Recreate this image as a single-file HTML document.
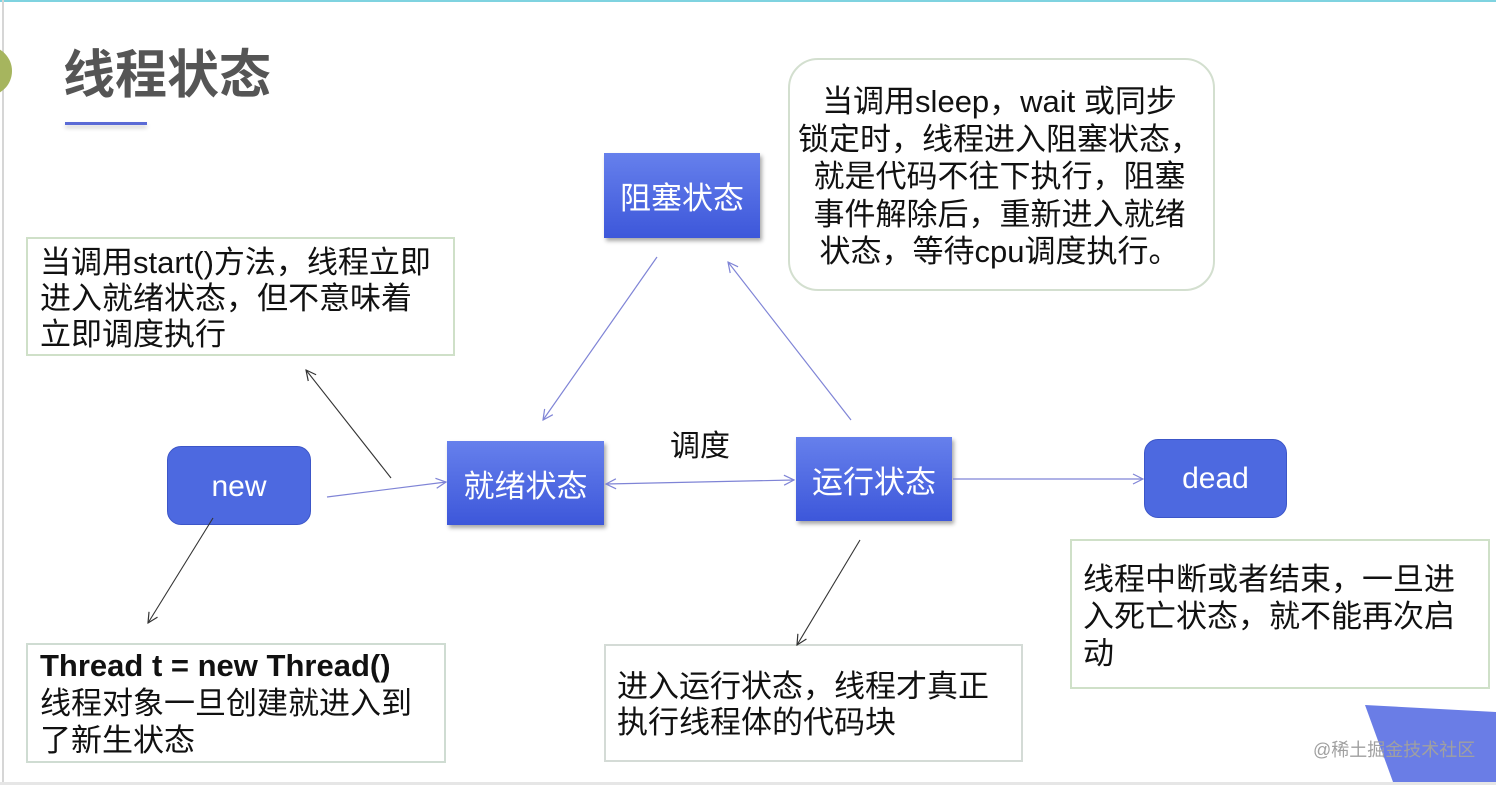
<!DOCTYPE html>
<html><head><meta charset="utf-8">
<style>
html,body{margin:0;padding:0;}
body{width:1496px;height:785px;position:relative;overflow:hidden;background:#fff;font-family:"Liberation Sans","Noto Sans CJK SC",sans-serif;}
.abs{position:absolute;}
.box{position:absolute;border:2px solid #cfe0c8;box-sizing:border-box;background:#fff;}
.txt{position:absolute;font-size:31px;color:#111;white-space:nowrap;}
.rect{position:absolute;background:linear-gradient(#6680ec,#3d57da);box-shadow:2px 3px 4px rgba(0,0,0,0.35);color:#fff;font-size:31px;display:flex;align-items:center;justify-content:center;}
.rnd{position:absolute;background:#4d69e0;border:1px solid #3c56c8;box-sizing:border-box;border-radius:14px;color:#fff;font-size:30px;display:flex;align-items:center;justify-content:center;}
</style></head><body>
<div class="abs" style="left:0;top:0;width:1496px;height:2px;background:#7fd3e0;"></div>
<div class="abs" style="left:2px;top:0;width:2px;height:785px;background:#d6d6d6;"></div>
<div class="abs" style="left:0;top:782px;width:1496px;height:3px;background:#e6e6e6;"></div>
<div class="abs" style="left:-38px;top:46px;width:50px;height:50px;border-radius:50%;background:#a6b55e;"></div>

<div class="abs" style="left:63px;top:36px;font-size:52px;font-weight:bold;color:#555;font-family:'Noto Sans CJK SC',sans-serif;line-height:70px;white-space:nowrap;">线程状态</div>
<div class="abs" style="left:65px;top:122px;width:82px;height:3px;background:#5b6bd6;box-shadow:0 3px 4px rgba(0,0,0,0.2);"></div>

<!-- boxes -->
<div class="box" style="left:26px;top:237px;width:429px;height:119px;"></div>
<div class="txt" style="left:40px;top:245px;line-height:36px;">当调用start()方法，线程立即<br>进入就绪状态，但不意味着<br>立即调度执行</div>

<div class="box" style="left:788px;top:58px;width:427px;height:233px;border-radius:30px;border-color:#d3dfcf;"></div>
<div class="txt" style="left:786px;top:83px;width:427px;text-align:center;line-height:37.5px;">当调用sleep，wait 或同步<br>锁定时，线程进入阻塞状态，<br>就是代码不往下执行，阻塞<br>事件解除后，重新进入就绪<br>状态，等待cpu调度执行。</div>

<div class="box" style="left:26px;top:643px;width:420px;height:120px;border-color:#cfdcd2;"></div>
<div class="txt" style="left:40px;top:647px;line-height:37.5px;"><b>Thread t = new Thread()</b><br>线程对象一旦创建就进入到<br>了新生状态</div>

<div class="box" style="left:604px;top:644px;width:419px;height:118px;border-color:#d4dbd6;"></div>
<div class="txt" style="left:617px;top:669px;line-height:36px;">进入运行状态，线程才真正<br>执行线程体的代码块</div>

<div class="box" style="left:1070px;top:539px;width:420px;height:150px;"></div>
<div class="txt" style="left:1083px;top:561px;line-height:37px;">线程中断或者结束，一旦进<br>入死亡状态，就不能再次启<br>动</div>

<!-- nodes -->
<div class="rect" style="left:604px;top:153px;width:156px;height:85px;">阻塞状态</div>
<div class="rect" style="left:447px;top:441px;width:157px;height:84px;">就绪状态</div>
<div class="rect" style="left:796px;top:437px;width:156px;height:84px;">运行状态</div>
<div class="rnd" style="left:167px;top:446px;width:144px;height:79px;padding-top:3px;">new</div>
<div class="rnd" style="left:1144px;top:439px;width:143px;height:79px;">dead</div>

<div class="txt" style="left:670px;top:429px;line-height:36px;font-size:30px;">调度</div>

<svg class="abs" style="left:0;top:0;" width="1496" height="785" viewBox="0 0 1496 785">
<defs>
<marker id="ab" viewBox="0 0 12 12" refX="11" refY="6" markerWidth="12" markerHeight="12" markerUnits="userSpaceOnUse" orient="auto-start-reverse">
<path d="M1,1 L11,6 L1,11" fill="none" stroke="#7f84d6" stroke-width="1.2"/>
</marker>
<marker id="ak" viewBox="0 0 12 12" refX="11" refY="6" markerWidth="12" markerHeight="12" markerUnits="userSpaceOnUse" orient="auto">
<path d="M1,1 L11,6 L1,11" fill="none" stroke="#333" stroke-width="1.2"/>
</marker>
</defs>
<g stroke="#7f84d6" stroke-width="1.2" fill="none">
<line x1="327" y1="497" x2="446" y2="482" marker-end="url(#ab)"/>
<line x1="606" y1="484" x2="794" y2="480" marker-start="url(#ab)" marker-end="url(#ab)"/>
<line x1="953" y1="479" x2="1143" y2="479" marker-end="url(#ab)"/>
<line x1="657" y1="257" x2="543" y2="420" marker-end="url(#ab)"/>
<line x1="851" y1="420" x2="728" y2="262" marker-end="url(#ab)"/>
</g>
<g stroke="#333" stroke-width="1.1" fill="none">
<line x1="391" y1="478" x2="306" y2="370" marker-end="url(#ak)"/>
<line x1="213" y1="518" x2="148" y2="623" marker-end="url(#ak)"/>
<line x1="860" y1="540" x2="797" y2="645" marker-end="url(#ak)"/>
</g>
<polygon points="1365,705 1496,712 1496,782 1393,782" fill="#6a7de6"/>
</svg>
<div class="abs" style="left:1313px;top:738px;font-size:18px;color:#a0a0a0;white-space:nowrap;line-height:24px;">@稀土掘金技术社区</div>
</body></html>
